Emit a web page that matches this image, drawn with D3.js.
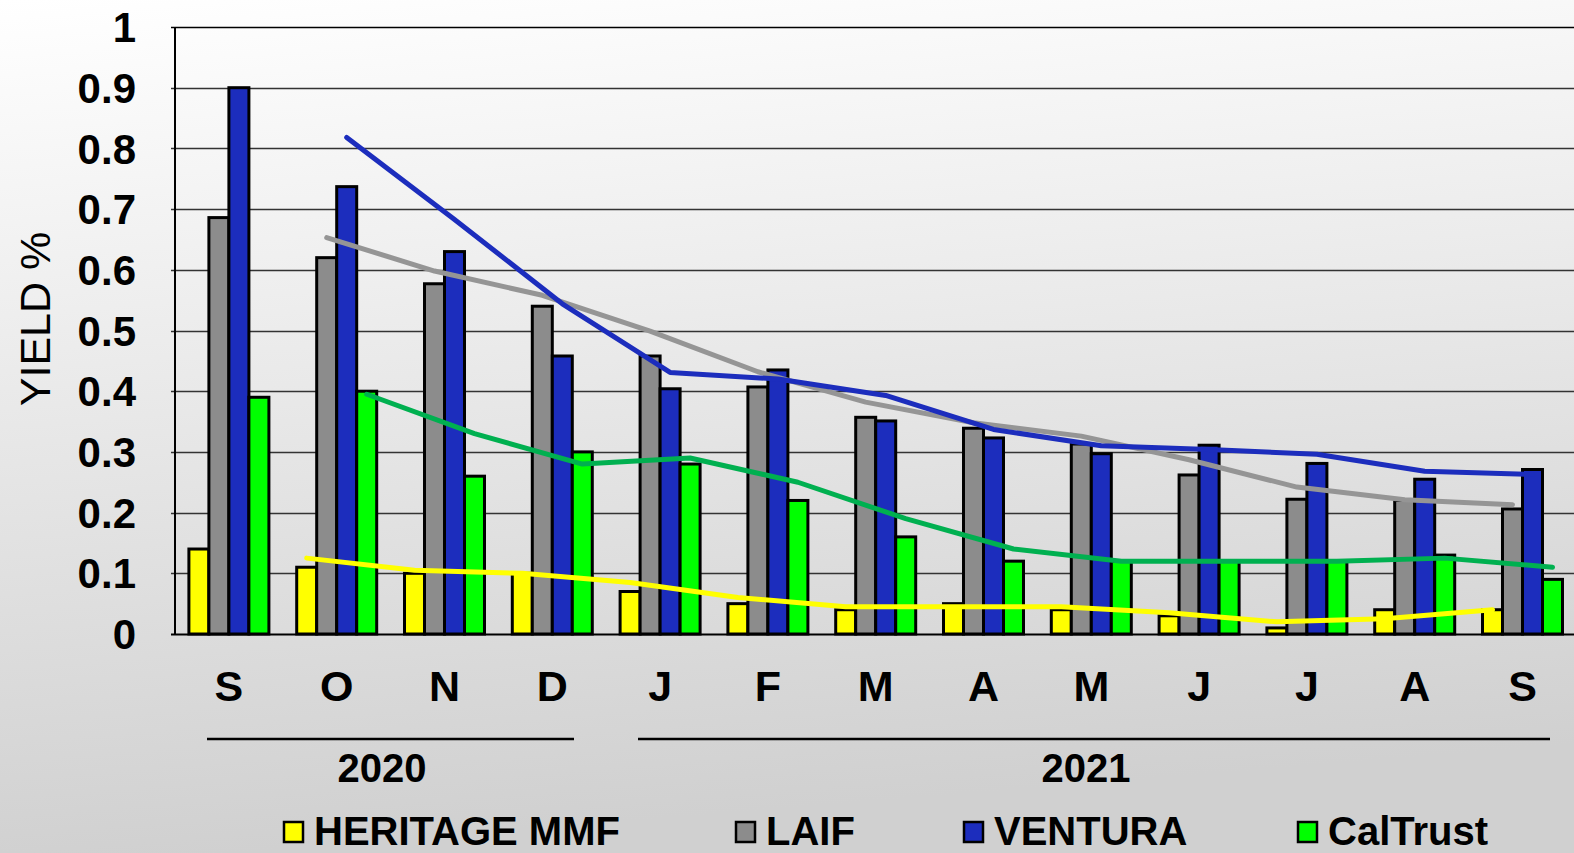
<!DOCTYPE html>
<html>
<head>
<meta charset="utf-8">
<script src="https://cdn.jsdelivr.net/npm/d3@7"></script>
<style>
  body { margin: 0; overflow: hidden; }
  svg { display: block; }
</style>
</head>
<body>
<div id="chart"></div>
<script>
// Month labels and year groups
const months = ['S', 'O', 'N', 'D', 'J', 'F', 'M', 'A', 'M', 'J', 'J', 'A', 'S'];
const years = ['2020', '2021'];
const yTicks = [0, 0.1, 0.2, 0.3, 0.4, 0.5, 0.6, 0.7, 0.8, 0.9, 1];

// Series (yield %)
const seriesNames = ['HERITAGE MMF', 'LAIF', 'VENTURA', 'CalTrust'];
const heritage = [0.14, 0.11, 0.10, 0.10, 0.07, 0.05, 0.04, 0.05, 0.04, 0.03, 0.01, 0.04, 0.04];
const laif     = [0.686, 0.62, 0.577, 0.54, 0.458, 0.407, 0.357, 0.339, 0.313, 0.262, 0.222, 0.22, 0.206];
const ventura  = [0.90, 0.737, 0.63, 0.458, 0.404, 0.435, 0.351, 0.323, 0.297, 0.311, 0.281, 0.255, 0.271];
const caltrust = [0.39, 0.40, 0.26, 0.30, 0.28, 0.22, 0.16, 0.12, 0.12, 0.12, 0.12, 0.13, 0.09];

// Trend lines (they start at the 2nd month)
const heritageTrend = [0.125, 0.105, 0.10, 0.085, 0.06, 0.045, 0.045, 0.045, 0.035, 0.02, 0.025, 0.04];
const laifTrend     = [0.653, 0.598, 0.558, 0.499, 0.432, 0.382, 0.348, 0.326, 0.287, 0.242, 0.221, 0.213];
const venturaTrend  = [0.818, 0.683, 0.544, 0.431, 0.42, 0.393, 0.337, 0.31, 0.304, 0.296, 0.268, 0.263];
const caltrustTrend = [0.395, 0.33, 0.28, 0.29, 0.25, 0.19, 0.14, 0.12, 0.12, 0.12, 0.125, 0.11];

const barColors  = ['#ffff00', '#8c8c8c', '#1c2dbd', '#00ff00'];
const lineColors = ['#ffff00', '#959595', '#1c2dbd', '#00b050'];

const seriesValues = [heritage, laif, ventura, caltrust];
const seriesTrends = [heritageTrend, laifTrend, venturaTrend, caltrustTrend];

const W = 1574, H = 853;
const font = "'Liberation Sans', Arial, sans-serif";

const svg = d3.select('#chart').append('svg')
  .attr('width', W)
  .attr('height', H);

// background gradient
const defs = svg.append('defs');
const grad = defs.append('linearGradient')
  .attr('id', 'bg')
  .attr('x1', 0).attr('y1', 0).attr('x2', 0.15).attr('y2', 1);
grad.append('stop').attr('offset', '0%').attr('stop-color', '#ffffff');
grad.append('stop').attr('offset', '100%').attr('stop-color', '#d0d0d0');
svg.append('rect').attr('width', W).attr('height', H).attr('fill', 'url(#bg)');

// scales
const plotLeft = 175, plotTop = 27, plotBottom = 634;
const xScale = d3.scaleBand()
  .domain(d3.range(months.length))
  .range([plotLeft, plotLeft + 107.8 * months.length]);

const inner = d3.scaleBand()
  .domain(d3.range(seriesNames.length))
  .range([-40, 40]);

const yScale = d3.scaleLinear()
  .domain([0, 1])
  .range([plotBottom, plotTop]);

// grid lines
svg.append('g')
  .selectAll('line')
  .data(yTicks)
  .enter()
  .append('line')
  .attr('x1', plotLeft - 4)
  .attr('x2', W)
  .attr('y1', d => Math.round(yScale(d)) + 0.5)
  .attr('y2', d => Math.round(yScale(d)) + 0.5)
  .attr('stroke', d => (d === 0 || d === 1) ? '#000' : '#333')
  .attr('stroke-width', d => d === 0 ? 2 : 1.5);

// left axis line
svg.append('line')
  .attr('x1', plotLeft).attr('x2', plotLeft)
  .attr('y1', plotTop).attr('y2', plotBottom)
  .attr('stroke', '#000')
  .attr('stroke-width', 2);

// y tick labels
svg.append('g')
  .selectAll('text')
  .data(yTicks)
  .enter()
  .append('text')
  .attr('x', 136)
  .attr('y', d => yScale(d))
  .attr('dy', '0.36em')
  .attr('text-anchor', 'end')
  .style('font-family', font)
  .style('font-weight', 'bold')
  .style('font-size', '42px')
  .text(d => d3.format('~g')(d));

// y title
svg.append('text')
  .attr('transform', 'translate(35,319) rotate(-90)')
  .attr('text-anchor', 'middle')
  .attr('dy', '0.36em')
  .style('font-family', font)
  .style('font-size', '43px')
  .text('YIELD %');

// bars
seriesValues.forEach((vals, s) => {
  svg.append('g')
    .selectAll('rect')
    .data(vals)
    .enter()
    .append('rect')
    .attr('x', (d, i) => xScale(i) + xScale.bandwidth() / 2 + inner(s))
    .attr('y', d => yScale(d))
    .attr('width', inner.bandwidth())
    .attr('height', d => plotBottom - yScale(d))
    .attr('fill', barColors[s])
    .attr('stroke', '#000')
    .attr('stroke-width', 3);
});

// trend lines
seriesTrends.forEach((vals, s) => {
  const line = d3.line()
    .x((d, i) => xScale(i + 1) + xScale.bandwidth() / 2 + inner(s) + inner.bandwidth() / 2)
    .y(d => yScale(d));
  svg.append('path')
    .datum(vals)
    .attr('d', line)
    .attr('fill', 'none')
    .attr('stroke', lineColors[s])
    .attr('stroke-width', 5)
    .attr('stroke-linecap', 'round')
    .attr('stroke-linejoin', 'round');
});

// month labels
svg.append('g')
  .selectAll('text')
  .data(months)
  .enter()
  .append('text')
  .attr('x', (d, i) => xScale(i) + xScale.bandwidth() / 2)
  .attr('y', 701)
  .attr('text-anchor', 'middle')
  .style('font-family', font)
  .style('font-weight', 'bold')
  .style('font-size', '43px')
  .text(d => d);

// year brackets
const yearSpans = [[207, 574], [638, 1550]];
const yearCenters = [382, 1086];
years.forEach((yr, k) => {
  svg.append('line')
    .attr('x1', yearSpans[k][0]).attr('x2', yearSpans[k][1])
    .attr('y1', 739).attr('y2', 739)
    .attr('stroke', '#000')
    .attr('stroke-width', 2.5);
  svg.append('text')
    .attr('x', yearCenters[k])
    .attr('y', 782)
    .attr('text-anchor', 'middle')
    .style('font-family', font)
    .style('font-weight', 'bold')
    .style('font-size', '40px')
    .text(yr);
});

// legend
const legendX = [284, 736, 964, 1298];
seriesNames.forEach((name, s) => {
  const g = svg.append('g').attr('transform', `translate(${legendX[s]},0)`);
  g.append('rect')
    .attr('x', 0).attr('y', 822)
    .attr('width', 19).attr('height', 20)
    .attr('fill', barColors[s])
    .attr('stroke', '#000')
    .attr('stroke-width', 2.5);
  g.append('text')
    .attr('x', 30)
    .attr('y', 845)
    .style('font-family', font)
    .style('font-weight', 'bold')
    .style('font-size', '40px')
    .text(name);
});
</script>
</body>
</html>
